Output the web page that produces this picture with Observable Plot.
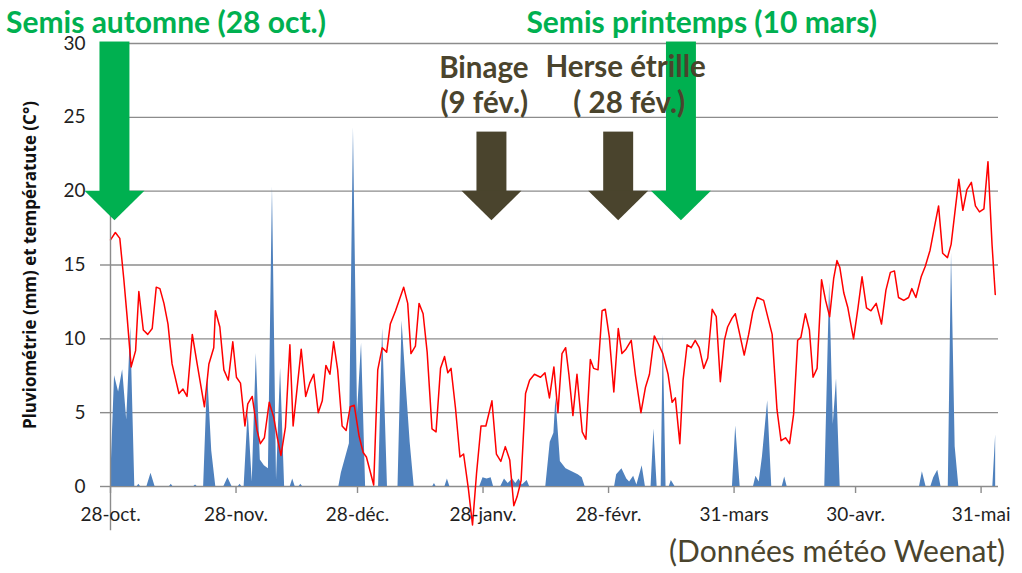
<!DOCTYPE html>
<html>
<head>
<meta charset="utf-8">
<script src="https://cdn.jsdelivr.net/npm/d3@7"></script>
<script src="https://cdn.jsdelivr.net/npm/@observablehq/plot@0.6"></script>
<style>
  html, body { margin: 0; padding: 0; background: #fff; }
  #wrap { width: 1022px; height: 573px; overflow: hidden; font-family: Lato, "Open Sans", sans-serif; }
  #chart svg { display: block; }
  #caption { height: 38px; line-height: 30px; text-align: right; padding-right: 17px;
             font-size: 30px; color: #4a442d; font-family: Lato, sans-serif; white-space: nowrap; }
</style>
</head>
<body>
<div id="wrap">
  <div id="chart"></div>
  <div id="caption">(Données météo Weenat)</div>
</div>
<script>
// ---- Data (days counted from 28 Oct) ----
const tempDay = [0.0,1.2,2.3,3.3,4.1,5.1,6.2,7.0,8.1,9.2,10.3,11.3,12.2,13.2,14.2,15.2,16.9,17.9,18.9,20.2,21.4,23.2,24.3,25.5,25.9,27.0,28.0,29.1,30.2,31.1,32.1,33.2,33.9,35.0,36.2,37.0,38.0,39.2,40.3,41.2,42.1,43.2,44.3,45.1,46.1,47.1,48.2,49.2,50.2,51.3,52.3,53.2,54.2,55.1,56.1,57.2,58.2,59.2,60.2,61.4,62.4,63.2,65.0,66.0,67.1,68.2,69.1,70.4,71.4,72.4,73.4,74.2,75.3,76.2,77.2,78.2,79.4,80.4,81.5,82.5,83.3,84.1,85.2,86.3,87.2,88.4,89.4,90.4,91.5,92.7,94.2,95.3,96.4,97.5,98.6,99.6,100.4,101.4,102.5,103.5,104.7,106.2,107.3,108.4,109.5,110.5,111.5,112.4,113.2,114.2,115.2,116.5,117.4,118.5,119.3,120.4,121.4,122.2,123.2,124.3,125.4,126.3,127.3,128.6,129.6,131.0,132.1,133.1,134.3,135.4,136.4,137.7,138.7,139.5,140.6,141.4,142.4,143.4,144.4,145.4,146.5,147.5,148.6,149.6,150.6,151.6,152.4,153.5,154.3,155.4,156.5,157.6,158.6,159.7,161.3,162.3,163.4,164.6,165.6,166.7,167.7,168.7,169.7,170.5,171.6,172.6,173.5,174.5,175.6,176.6,177.6,178.6,179.4,180.1,181.1,182.1,183.5,184.6,185.6,186.7,187.8,189.1,190.4,191.5,192.6,193.6,194.6,195.9,197.1,197.9,198.9,200.2,201.2,202.4,203.5,204.5,205.5,206.7,207.6,208.5,209.5,210.5,211.5,212.6,213.6,214.6,215.7,216.7,217.7,218.5];
const tempVal = [16.7,17.2,16.8,14.0,11.5,8.1,9.2,13.2,10.6,10.3,10.7,13.5,13.4,12.4,11.0,8.3,6.3,6.6,6.1,10.3,8.3,5.4,8.3,9.4,11.9,10.8,7.9,7.2,9.8,7.4,7.0,4.1,5.6,6.1,3.8,2.9,3.3,5.7,4.7,3.3,2.1,4.0,9.6,4.1,6.7,9.3,6.1,7.0,7.6,5.0,5.8,8.2,7.6,9.8,7.9,4.1,3.8,5.4,5.5,3.4,2.3,2.0,0.1,7.9,9.4,9.1,11.0,11.9,12.7,13.5,12.4,9.0,9.5,12.4,11.7,9.1,3.9,3.7,8.0,8.8,7.7,8.0,5.3,2.0,2.2,-0.2,-2.6,0.9,4.1,4.1,5.8,2.2,1.7,2.7,1.8,-1.3,-0.7,0.4,6.3,7.2,7.6,7.4,7.7,6.0,8.1,5.0,9.0,9.4,7.6,4.8,7.6,3.7,3.2,8.6,8.0,7.9,11.9,12.0,10.1,6.4,10.7,9.0,9.3,9.9,7.6,5.0,6.7,7.6,10.2,9.6,9.0,7.6,5.7,6.0,2.9,7.2,9.6,9.4,9.9,9.4,8.0,8.7,12.0,11.5,7.1,9.9,10.8,11.4,11.7,10.3,8.9,10.3,11.8,12.8,12.6,11.5,10.3,5.2,3.1,3.3,2.9,4.9,9.9,10.1,11.7,10.6,7.4,8.0,14.0,12.6,11.5,14.1,15.3,14.85,13.1,12.1,10.0,12.1,14.2,12.1,11.9,12.4,11.0,13.3,14.5,14.6,12.8,12.6,12.8,13.4,12.8,14.2,14.9,16.0,17.6,19.0,15.8,15.5,16.4,18.5,20.8,18.7,20.1,20.6,19.0,18.6,18.8,22.0,16.4,13.0];

const rainDay = [0,1,2,3,4,5,6, 6.6,7,7.4, 9,10,11, 14.6,15,15.4, 20.6,21,21.4, 23,24,25,26, 28,29,30, 31.6,32,32.4, 33,34,35,36,37,38,39,40,41,42,43, 44.4,45,45.6, 46.6,47,47.4, 56.4,57,58,59,60,61,62,63, 66.2,67.2,68.4, 71,72,73,74,75, 79.6,80,80.4, 82.6,83.2,83.8, 91.2,92,93,94,94.6, 96.4,97.3,98.2,99.3,100.1,100.9,101.7,102.9,103.5, 107.5,108.6,109.5,110,111.1,112.5,114,115.5,116.5,117.2, 124.5,125,126.3,127.5,128.2,129.2,130,131.3,132.1, 133.5,134.2,135, 136,136.5,137.2, 138,138.5,139.4, 153.6,154.4,155.5, 158.8,159.4,160.2,161,162.3,163.3, 165.9,166.5,167.1, 176.4,177.6,178.5,179.3,180.2, 199.8,200.5,201.4, 202.6,203.3,204.3,205.1, 206.9,207.7,208.6,209.5, 217.9,218.6];
const rainVal = [0,7.5,6.4,7.9,4.5,10.8,0, 0,0.15,0, 0,0.9,0, 0,0.15,0, 0,0.1,0, 0,7.6,2.4,0, 0,0.6,0, 0,0.15,0, 0,5.1,0.3,9.0,1.8,1.4,1.2,20.3,0.4,8.0,0, 0,0.5,0, 0,0.15,0, 0,0.9,1.9,2.9,24.3,5.0,9.7,0, 0,10.7,0, 0,11.2,7.0,3.0,0, 0,0.2,0, 0,0.5,0, 0,0.6,0.5,0.6,0, 0,0.5,0.2,0.5,0.2,0.5,0.1,0.4,0, 0,3.0,3.6,6.0,1.7,1.2,1.0,0.8,0.6,0, 0,0.8,1.2,0.5,0.3,0.7,0.1,1.4,0, 0,3.9,0, 0,10.3,0, 0,0.4,0, 0,4.1,0, 0,0.7,0.3,2.0,5.8,0, 0,0.65,0, 0,13.8,4.2,7.3,0, 0,1.0,0, 0,0.6,1.1,0, 0,15.8,2.7,0, 0,3.5];

const yTicks = [0, 5, 10, 15, 20, 25, 30];
const xTicks = [0, 31, 61, 92, 123, 154, 184, 215];
const xTickLabels = ["28-oct.", "28-nov.", "28-déc.", "28-janv.", "28-févr.", "31-mars", "30-avr.", "31-mai"];
const yLabel = "Pluviométrie (mm) et températute (C°)";

// Interventions (arrows), anchored in data units
const arrowDay = [1.1, 94.2, 125.5, 141.0];
const arrowTop = [30.1, 24.0, 24.0, 30.1];
const arrowKind = ["semis", "travail", "travail", "semis"];

const noteText = ["Semis automne (28 oct.)", "Semis printemps (10 mars)", "Binage", "(9 fév.)", "Herse étrille", "( 28 fév.)"];
const noteDay  = [13.7, 146.0, 92.2, 92.3, 127.2, 128.1];
const noteY    = [31.35, 31.35, 28.3, 25.9, 28.4, 25.9];
const noteKind = ["semis", "semis", "travail", "travail", "travail", "travail"];

// ---- Styles ----
const GREEN = "#00B050", BROWN = "#4a442d", GRID = "#8c8c8c";
const colorOf = k => k === "semis" ? GREEN : BROWN;
const SHAFT_HALF = 3.7, HEAD_HALF = 7.4, HEAD_BASE = 20.0, HEAD_TIP = 18.0;

const temp = tempDay.map((d, i) => ({day: d, t: tempVal[i]}));
const rain = rainDay.map((d, i) => ({day: d, mm: rainVal[i]}));
const arrows = arrowDay.map((d, i) => ({day: d, top: arrowTop[i], color: colorOf(arrowKind[i])}));
const heads = arrows.flatMap((a, i) => [
  {id: i, x: a.day - HEAD_HALF, y: HEAD_BASE, color: a.color},
  {id: i, x: a.day, y: HEAD_TIP, color: a.color},
  {id: i, x: a.day + HEAD_HALF, y: HEAD_BASE, color: a.color}
]);
const notes = noteText.map((t, i) => ({text: t, day: noteDay[i], y: noteY[i], color: colorOf(noteKind[i]), size: noteKind[i] === "semis" ? 30 : 29.5}));

const chart = Plot.plot({
  width: 1022,
  height: 535,
  marginTop: 43,
  marginBottom: 49,
  marginLeft: 110,
  marginRight: 24,
  x: {domain: [0, 219.3], axis: null},
  y: {domain: [0, 30], axis: null},
  style: {fontFamily: "Lato, 'Open Sans', sans-serif", background: "#fff"},
  marks: [
    Plot.ruleY(yTicks, {stroke: GRID, strokeWidth: 1.4}),
    Plot.areaY(rain, {x: "day", y: "mm", fill: "#4F81BD"}),
    Plot.line(temp, {x: "day", y: "t", stroke: "#FF0000", strokeWidth: 1.5}),
    Plot.ruleX([0], {y1: -3, y2: 30, stroke: GRID, strokeWidth: 1.4}),
    Plot.axisY(yTicks, {tickSize: 10, tickPadding: 15, stroke: GRID, strokeWidth: 1.4, fontSize: 19, fill: "#1f1f1f", label: null}),
    Plot.axisX(xTicks, {tickFormat: d => xTickLabels[xTicks.indexOf(d)], tickSize: 7, tickPadding: 14, stroke: GRID, strokeWidth: 1.4, fontSize: 19, fill: "#1f1f1f", label: null}),
    Plot.text([yLabel], {frameAnchor: "left", textAnchor: "middle", rotate: -90, dx: -80, fontSize: 17, fontWeight: "bold", fontFamily: "'Open Sans', sans-serif", fill: "#111"}),
    Plot.rect(arrows, {x1: d => d.day - SHAFT_HALF, x2: d => d.day + SHAFT_HALF, y1: HEAD_BASE - 0.05, y2: "top", fill: "color"}),
    Plot.areaY(heads, {x: "x", y1: HEAD_BASE, y2: "y", z: "id", fill: "color"}),
    Plot.text(notes, {x: "day", y: "y", text: "text", fill: "color", fontSize: "size", fontWeight: "bold"})
  ]
});
document.getElementById("chart").appendChild(chart);
</script>
</body>
</html>
